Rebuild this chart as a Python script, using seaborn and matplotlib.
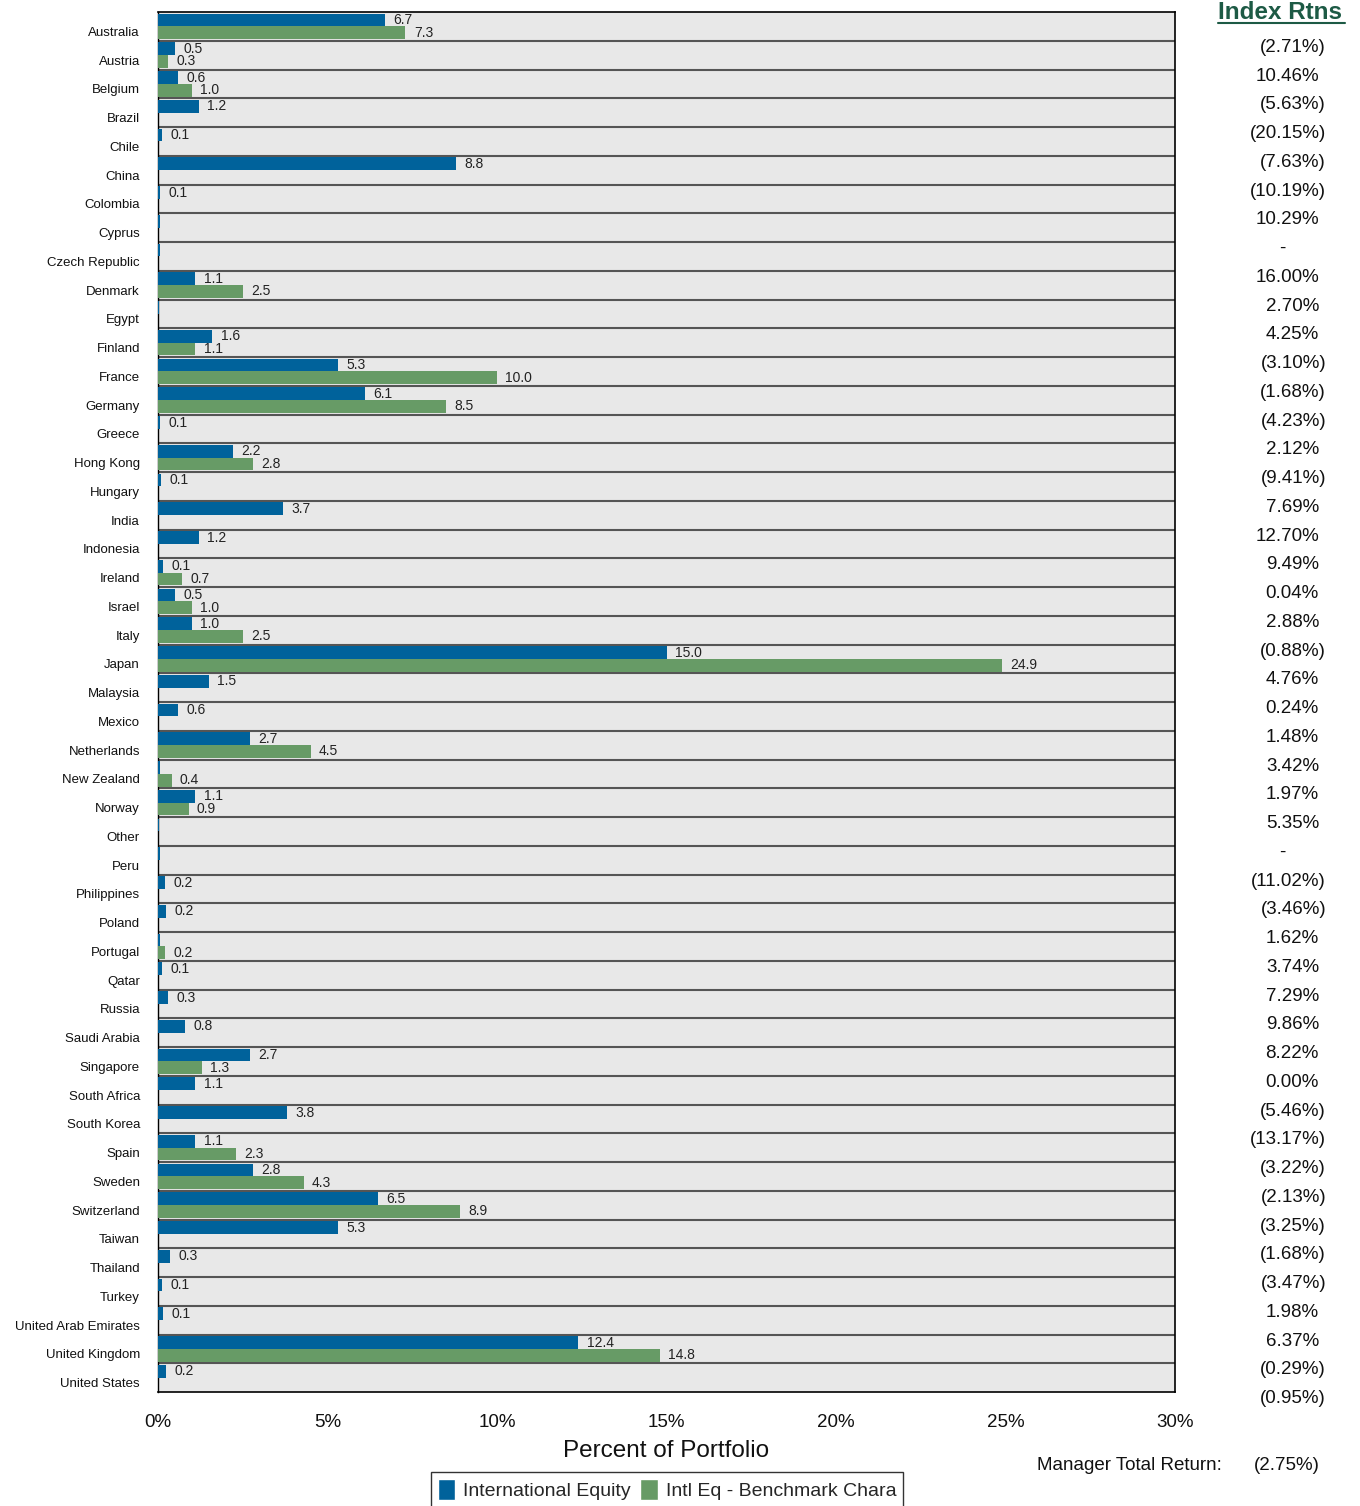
import numpy as np
import pandas as pd
import matplotlib.pyplot as plt
import seaborn as sns
from matplotlib.lines import Line2D
from matplotlib.patches import Patch
from matplotlib.ticker import PercentFormatter

# data
countries = ['Australia', 'Austria', 'Belgium', 'Brazil', 'Chile', 'China', 'Colombia', 'Cyprus',
             'Czech Republic', 'Denmark', 'Egypt', 'Finland', 'France', 'Germany', 'Greece',
             'Hong Kong', 'Hungary', 'India', 'Indonesia', 'Ireland', 'Israel', 'Italy', 'Japan',
             'Malaysia', 'Mexico', 'Netherlands', 'New Zealand', 'Norway', 'Other', 'Peru',
             'Philippines', 'Poland', 'Portugal', 'Qatar', 'Russia', 'Saudi Arabia', 'Singapore',
             'South Africa', 'South Korea', 'Spain', 'Sweden', 'Switzerland', 'Taiwan', 'Thailand',
             'Turkey', 'United Arab Emirates', 'United Kingdom', 'United States']
intl_equity = [6.7, 0.5, 0.6, 1.2, 0.12, 8.8, 0.07, 0.045, 0.045, 1.1, 0.04, 1.6, 5.3, 6.1, 0.07,
               2.2, 0.08, 3.7, 1.2, 0.14, 0.5, 1.0, 15.0, 1.5, 0.6, 2.7, 0.045, 1.1, 0.04, 0.045,
               0.22, 0.24, 0.045, 0.12, 0.3, 0.8, 2.7, 1.1, 3.8, 1.1, 2.8, 6.5, 5.3, 0.35,
               0.13, 0.14, 12.4, 0.24]
benchmark = [7.3, 0.3, 1.0, 0, 0, 0, 0, 0, 0, 2.5, 0, 1.1, 10.0, 8.5, 0,
             2.8, 0, 0, 0, 0.7, 1.0, 2.5, 24.9, 0, 0, 4.5, 0.4, 0.9, 0, 0,
             0, 0, 0.2, 0, 0, 0, 1.3, 0, 0, 2.3, 4.3, 8.9, 0, 0,
             0, 0, 14.8, 0]
index_rtns = ['(2.71%)', '10.46%', '(5.63%)', '(20.15%)', '(7.63%)', '(10.19%)', '10.29%', '-',
              '16.00%', '2.70%', '4.25%', '(3.10%)', '(1.68%)', '(4.23%)', '2.12%', '(9.41%)',
              '7.69%', '12.70%', '9.49%', '0.04%', '2.88%', '(0.88%)', '4.76%', '0.24%',
              '1.48%', '3.42%', '1.97%', '5.35%', '-', '(11.02%)', '(3.46%)', '1.62%',
              '3.74%', '7.29%', '9.86%', '8.22%', '0.00%', '(5.46%)', '(13.17%)', '(3.22%)',
              '(2.13%)', '(3.25%)', '(1.68%)', '(3.47%)', '1.98%', '6.37%', '(0.29%)', '(0.95%)']
series = ['International Equity', 'Intl Eq - Benchmark Chara']
manager_total = '(2.75%)'

blue = '#00629b'
green = '#679b66'

df = pd.DataFrame({
    'country': countries * 2,
    'series': [series[0]] * len(countries) + [series[1]] * len(countries),
    'pct': intl_equity + benchmark,
})

sns.set_style('white')
plt.rcParams['font.family'] = ['Liberation Sans', 'DejaVu Sans']

W, H = 1360, 1506
fig = plt.figure(figsize=(W / 100, H / 100), dpi=100)
ax = fig.add_axes([158 / W, 1 - 1392 / H, (1175 - 158) / W, (1392 - 12) / H])
ax.set_facecolor('#e8e8e8')

sns.barplot(data=df, y='country', x='pct', hue='series', hue_order=series,
            palette=[blue, green], orient='y', width=0.88, ax=ax,
            legend=False, errorbar=None, saturation=1, linewidth=0)

n = len(countries)
# bars over the left spine so the tiny ones still show
for p in ax.patches:
    p.set_zorder(3)

# value labels (only where the value rounds to something visible)
for cont, vals in zip(ax.containers, [intl_equity, benchmark]):
    labels = [f'{v:.1f}' if round(v, 1) >= 0.1 else '' for v in vals]
    ax.bar_label(cont, labels=labels, padding=6, fontsize=10, color='#222222')

ax.set_xlim(0, 30)
ax.set_ylim(n - 0.5, -0.5)
ax.set_xticks(range(0, 31, 5))
ax.xaxis.set_major_formatter(PercentFormatter(100, decimals=0))
ax.tick_params(axis='x', labelsize=13.5, length=8, width=1.5, color='#707070',
               direction='out', pad=8, labelcolor='#111111')

ax.set_yticks(np.arange(n) + 0.17, countries)
ax.tick_params(axis='y', labelsize=9.5, length=0, pad=13, labelcolor='#111111')
ax.set_yticks(np.arange(n - 1) + 0.5, minor=True)
ax.tick_params(axis='y', which='minor', length=0)
ax.grid(which='minor', axis='y', color='#555555', lw=1.5)
ax.set_axisbelow(True)

ax.set_ylabel('')
ax.set_xlabel('Percent of Portfolio', fontsize=17.5, labelpad=6, color='#111111')
for s in ax.spines.values():
    s.set_color('black')
    s.set_linewidth(1.2)
ax.spines['left'].set_linewidth(1.0)

# right-hand index returns column
row_px = 1380 / n
for i, t in enumerate(index_rtns):
    if t.startswith('('):
        xf, ha = 1326 / W, 'right'
    elif t == '-':
        xf, ha = 1282 / W, 'center'
    else:
        xf, ha = 1319 / W, 'right'
    ypx = 12 + (i + 0.5) * row_px + 21
    fig.text(xf, 1 - ypx / H, t, ha=ha, va='center', fontsize=13.5, color='#111111')

fig.text(1218 / W, 1 - 19 / H, 'Index Rtns', ha='left', va='baseline',
         fontsize=17.5, fontweight='bold', color='#1d5a45')
fig.add_artist(Line2D([1218 / W, 1345 / W], [1 - 22.5 / H, 1 - 22.5 / H],
                      color='#1d5a45', lw=1.5))

fig.text(1222 / W, 1 - 1466 / H, 'Manager Total Return:', ha='right', va='center',
         fontsize=13.5, color='#111111')
fig.text(1320 / W, 1 - 1466 / H, manager_total, ha='right', va='center',
         fontsize=13.5, color='#111111')

handles = [Patch(facecolor=blue), Patch(facecolor=green)]
leg = fig.legend(handles, series, loc='upper center', ncol=2,
                 bbox_to_anchor=(667 / W, 1 - 1472 / H), fontsize=14,
                 frameon=True, fancybox=False, edgecolor='black',
                 handlelength=0.9, handleheight=1.3, handletextpad=0.4,
                 columnspacing=0.5, borderpad=0.35, borderaxespad=0)
leg.get_frame().set_linewidth(1)

fig.savefig('out.png', dpi=100)
